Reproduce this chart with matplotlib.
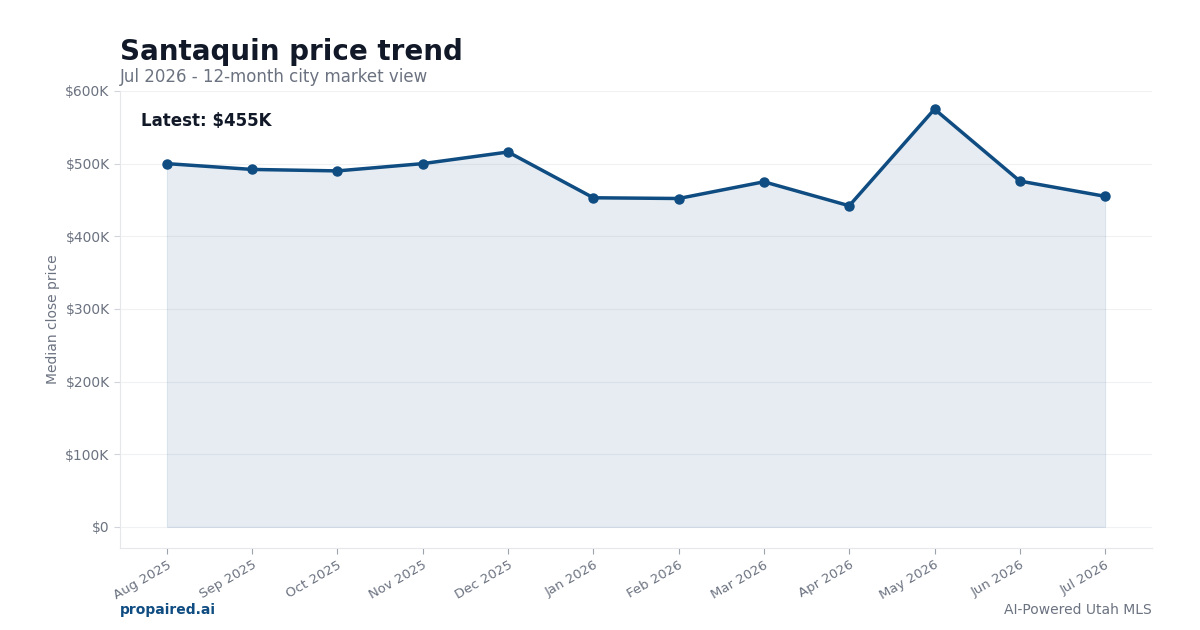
import matplotlib
matplotlib.use("Agg")
import matplotlib.pyplot as plt
from matplotlib.ticker import FuncFormatter

months = ["Aug 2025", "Sep 2025", "Oct 2025", "Nov 2025", "Dec 2025", "Jan 2026",
          "Feb 2026", "Mar 2026", "Apr 2026", "May 2026", "Jun 2026", "Jul 2026"]
median_price = [500000, 492000, 490000, 500000, 516000, 453000,
                452000, 475000, 442000, 575000, 476000, 455000]
y_ticks = [0, 100000, 200000, 300000, 400000, 500000, 600000]

LINE = "#0f4c81"
GRAY = "#6b7280"
DARK = "#111827"

fig = plt.figure(figsize=(12, 6.3), dpi=100)
ax = fig.add_axes([0.1, 0.1302, 0.86, 0.7254])

x = list(range(len(months)))
ax.fill_between(x, median_price, 0, color=LINE, alpha=0.10, edgecolor=(0.06, 0.3, 0.5, 0.12), linewidth=0.8)
ax.plot(x, median_price, color=LINE, linewidth=2.5, marker="o", markersize=6.5, zorder=3)

ax.set_xlim(-0.55, len(months) - 0.45)
ax.set_ylim(-29000, 600000)
ax.set_yticks(y_ticks)
ax.yaxis.set_major_formatter(FuncFormatter(lambda v, p: "$0" if v == 0 else f"${v/1000:.0f}K"))
ax.set_xticks(x)
ax.set_xticklabels(months, rotation=30, ha="right", rotation_mode="anchor", fontsize=9.5, color=GRAY)
ax.tick_params(axis="y", labelsize=10, labelcolor=GRAY, color="#d1d5db", length=4)
ax.tick_params(axis="x", color="#9ca3af", length=4)
ax.grid(axis="y", color="#f0f1f3", linewidth=0.8)
ax.set_axisbelow(True)
for s in ["top", "right"]:
    ax.spines[s].set_visible(False)
for s in ["left", "bottom"]:
    ax.spines[s].set_color("#e5e7eb")
ax.set_ylabel("Median close price", fontsize=10, color=GRAY)

ax.text(0.02, 0.935, f"Latest: ${median_price[-1]/1000:.0f}K", transform=ax.transAxes,
        fontsize=12, fontweight="bold", color=DARK, va="center", ha="left")

fig.text(0.1, 0.918, "Santaquin price trend", fontsize=20, fontweight="bold", color=DARK, va="center")
fig.text(0.1, 0.877, "Jul 2026 - 12-month city market view", fontsize=12, color=GRAY, va="center")
fig.text(0.1, 0.032, "propaired.ai", fontsize=10, fontweight="bold", color=LINE, va="center")
fig.text(0.96, 0.032, "AI-Powered Utah MLS", fontsize=10, color=GRAY, va="center", ha="right")

fig.savefig("out.png", dpi=100)
